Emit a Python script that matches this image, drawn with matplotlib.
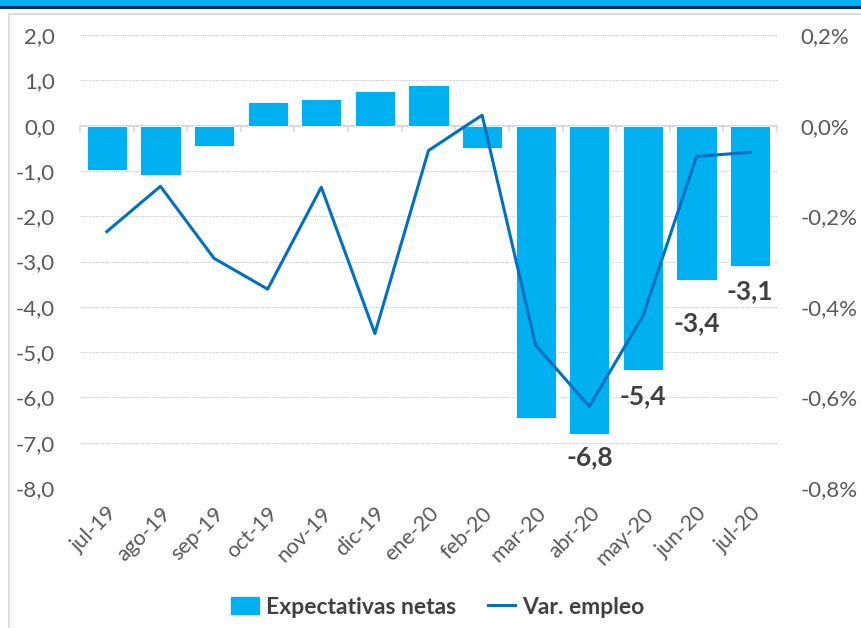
import matplotlib
matplotlib.use("Agg")
import matplotlib.pyplot as plt
from matplotlib.lines import Line2D
from matplotlib.patches import Rectangle
from matplotlib.ticker import FuncFormatter, MultipleLocator

plt.rcParams['font.family'] = ['Lato', 'DejaVu Sans']

months = ["jul-19", "ago-19", "sep-19", "oct-19", "nov-19", "dic-19", "ene-20",
          "feb-20", "mar-20", "abr-20", "may-20", "jun-20", "jul-20"]
expectativas = [-0.97, -1.08, -0.46, 0.53, 0.58, 0.76, 0.89,
                -0.49, -6.45, -6.8, -5.4, -3.4, -3.1]
var_empleo = [-0.234, -0.134, -0.293, -0.361, -0.136, -0.459, -0.055,
              0.023, -0.485, -0.620, -0.420, -0.068, -0.059]
labeled = {9: "-6,8", 10: "-5,4", 11: "-3,4", 12: "-3,1"}
label_offsets = {9: 24, 10: 26, 11: 44, 12: 25}

BAR = "#00B0F0"
LINE = "#0070C0"
TICKC = "#595959"
GRID = "#D9D9D9"

fig = plt.figure(figsize=(8.61, 6.28), dpi=100)
ax = fig.add_axes([80/861, 1-488/628, 697/861, 453/628])
ax2 = ax.twinx()

x = list(range(len(months)))
ax.bar(x, expectativas, width=0.75, color=BAR, edgecolor="white", linewidth=0.6, zorder=2)
ax.set_xlim(-0.5, len(months)-0.5)
ax.set_ylim(-8, 2)
ax.yaxis.set_major_locator(MultipleLocator(1))
ax.yaxis.set_major_formatter(FuncFormatter(lambda v, p: f"{v:.1f}".replace(".", ",")))
ax.grid(axis="y", color="#C8C8C8", linestyle=(0, (1, 1)), linewidth=0.8, zorder=0)
ax.set_axisbelow(True)
ax.axhline(0, color=GRID, linewidth=1.5, zorder=1)
# category boundary tick marks on zero line
for b in range(len(months)+1):
    ax.plot([b-0.5, b-0.5], [0, -0.13], color=GRID, linewidth=1.2, zorder=1, clip_on=False)

for s in ["top", "right", "left", "bottom"]:
    ax.spines[s].set_visible(False)
    ax2.spines[s].set_visible(False)

ax.set_xticks(x)
ax.set_xticklabels(months, rotation=45, ha="right", rotation_mode="anchor")
ax.tick_params(axis="x", length=0, pad=11, labelsize=15.5, labelcolor=TICKC)
ax.tick_params(axis="y", length=0, pad=18, labelsize=16, labelcolor=TICKC)

ax2.plot(x, var_empleo, color=LINE, linewidth=2.2, zorder=3)
ax2.set_ylim(-0.8, 0.2)
ax2.yaxis.set_major_locator(MultipleLocator(0.2))
ax2.yaxis.set_major_formatter(FuncFormatter(lambda v, p: f"{v:.1f}%".replace(".", ",").replace("-0,0", "0,0")))
ax2.tick_params(axis="y", length=0, pad=17, labelsize=16, labelcolor=TICKC)

for i, txt in labeled.items():
    ax.annotate(txt, xy=(i, expectativas[i]), xytext=(0, -label_offsets[i]*0.72),
                textcoords="offset points", ha="center", va="center",
                fontsize=19, fontweight="bold", color="#404040", zorder=4)

# legend
handles = [Rectangle((0, 0), 1, 1, color=BAR),
           Line2D([0], [0], color=LINE, linewidth=2.2)]
leg = fig.legend(handles, ["Expectativas netas", "Var. empleo"], loc="center",
                 bbox_to_anchor=(438/861, 1-607/628), ncol=2, frameon=False,
                 fontsize=16.5, handlelength=1.2, handletextpad=0.3, columnspacing=1.4)
for t in leg.get_texts():
    t.set_color("#404040")
    t.set_fontweight("bold")

# decorative frame
fig.patches.append(Rectangle((0, 1-5/628), 1, 5/628, transform=fig.transFigure,
                             color="#00B0F0", zorder=0))
fig.lines.append(Line2D([0, 1], [1-6.5/628, 1-6.5/628], transform=fig.transFigure,
                        color="#0B2A6B", linewidth=2.2))
fig.lines.append(Line2D([8.5/861, 1], [1-13.5/628, 1-13.5/628], transform=fig.transFigure,
                        color="#D9D9D9", linewidth=1.2))
fig.lines.append(Line2D([8.5/861, 8.5/861], [0, 1-13.5/628], transform=fig.transFigure,
                        color="#D9D9D9", linewidth=1.2))

fig.savefig("out.png", dpi=100)
